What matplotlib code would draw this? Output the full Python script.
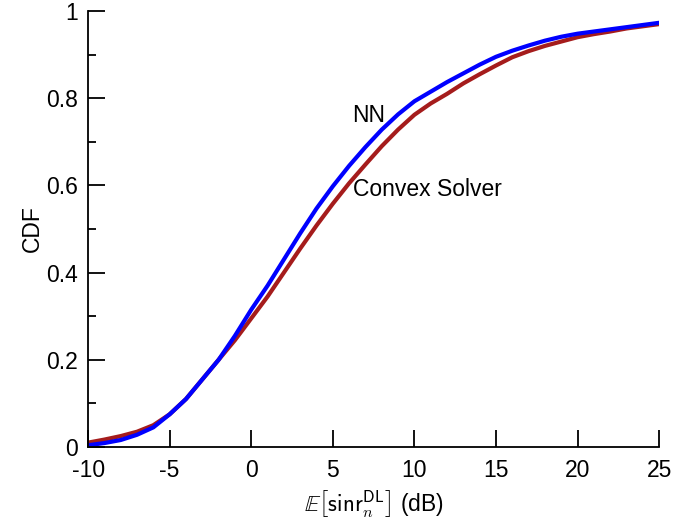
import numpy as np
import matplotlib
matplotlib.use('Agg')
import matplotlib.pyplot as plt
from matplotlib.ticker import MultipleLocator

plt.rcParams['font.family'] = ['Liberation Sans', 'DejaVu Sans']
plt.rcParams['mathtext.fontset'] = 'cm'
plt.rcParams['axes.unicode_minus'] = False

sinr_db = [-10, -9, -8, -7, -6, -5, -4, -3, -2, -1, 0, 1, 2, 3, 4, 5, 6, 7, 8,
           9, 10, 11, 12, 13, 14, 15, 16, 17, 18, 19, 20, 21, 22, 23, 24, 25]
cdf_nn = [0.004, 0.009, 0.016, 0.028, 0.045, 0.075, 0.11, 0.155, 0.2, 0.255,
          0.315, 0.37, 0.43, 0.49, 0.547, 0.598, 0.645, 0.688, 0.728, 0.763,
          0.793, 0.815, 0.837, 0.857, 0.877, 0.895, 0.909, 0.921, 0.932, 0.941,
          0.948, 0.953, 0.958, 0.963, 0.968, 0.973]
cdf_cvx = [0.01, 0.017, 0.025, 0.035, 0.05, 0.075, 0.11, 0.155, 0.2, 0.245,
           0.295, 0.345, 0.4, 0.455, 0.508, 0.558, 0.605, 0.648, 0.69, 0.728,
           0.762, 0.788, 0.81, 0.834, 0.855, 0.875, 0.894, 0.908, 0.92, 0.93,
           0.94, 0.947, 0.953, 0.96, 0.965, 0.97]

fig = plt.figure(figsize=(6.99, 5.25), dpi=100)
ax = fig.add_axes([0.126, 0.1486, 0.817, 0.8304])

ax.plot(sinr_db, cdf_cvx, color='#A51C1C', linewidth=3)
ax.plot(sinr_db, cdf_nn, color='#0000FF', linewidth=3)

ax.text(6.2, 0.76, 'NN', fontsize=16.5, ha='left', va='center')
ax.text(6.25, 0.59, 'Convex Solver', fontsize=16.5, ha='left', va='center')

ax.set_xlim(-10, 25)
ax.set_ylim(0, 1)
ax.xaxis.set_major_locator(MultipleLocator(5))
ax.yaxis.set_minor_locator(MultipleLocator(0.1))
ax.set_yticks([0, 0.2, 0.4, 0.6, 0.8, 1.0])
ax.set_yticklabels(['0', '0.2', '0.4', '0.6', '0.8', '1'])

for s in ['top', 'right']:
    ax.spines[s].set_visible(False)
for s in ['left', 'bottom']:
    ax.spines[s].set_linewidth(1.3)

ax.tick_params(which='major', direction='in', length=12, width=1.3,
               labelsize=16.5, pad=7)
ax.tick_params(which='minor', direction='in', length=6, width=1.3)
ax.tick_params(axis='x', pad=9)

ax.set_xlabel(r'$\mathbb{E}\left[\mathsf{sinr}_{n}^{\mathsf{DL}}\right]$ (dB)', fontsize=16.5, labelpad=4)
ax.set_ylabel('CDF', fontsize=16.5, labelpad=2)

plt.savefig('out.png', dpi=100)
plt.close()
